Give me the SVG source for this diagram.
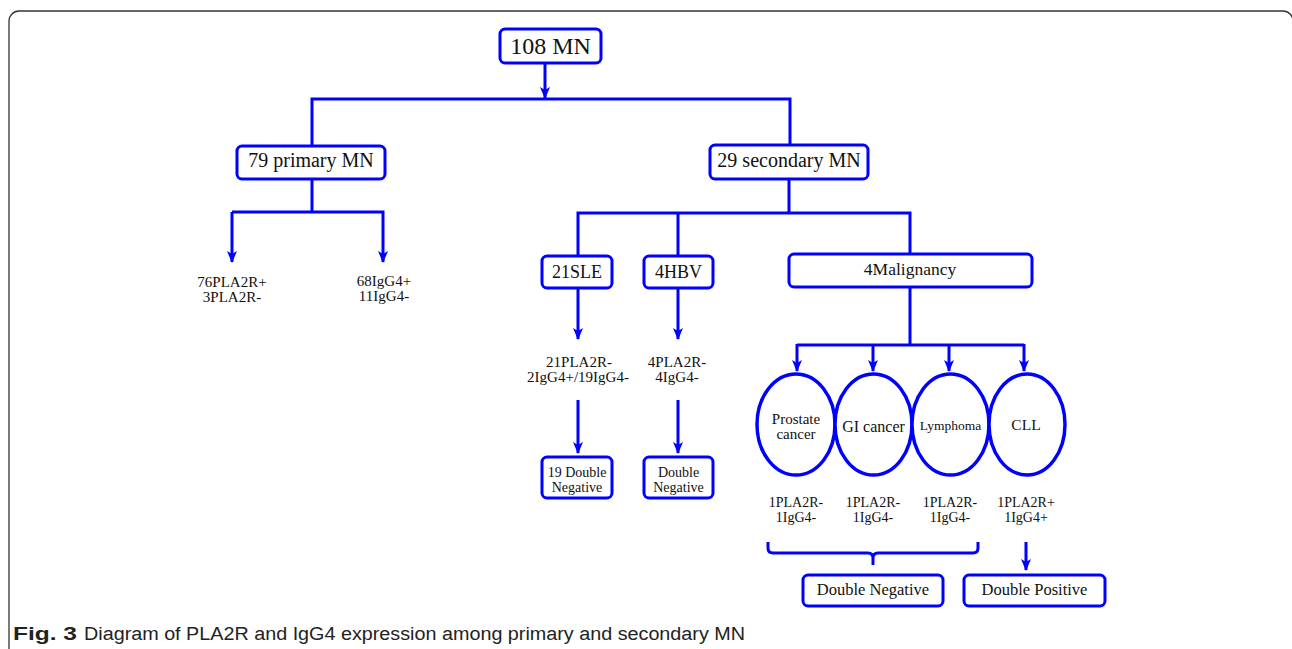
<svg xmlns="http://www.w3.org/2000/svg" width="1292" height="649" viewBox="0 0 1292 649">
<style>
.box{fill:#fff;stroke:#0000ff;stroke-width:3}
.ell{fill:#fff;stroke:#0000ff;stroke-width:3.5}
.ln{fill:none;stroke:#0000ff;stroke-width:3}
.t{font-family:"Liberation Serif","Times New Roman",serif;fill:#111;text-anchor:middle}
.cap{font-family:"Liberation Sans",Arial,sans-serif;font-size:18px;fill:#222}
</style>
<defs>
<marker id="ah" markerWidth="12" markerHeight="12" viewBox="0 0 12 12" refX="11" refY="6" orient="auto" markerUnits="userSpaceOnUse">
<path d="M0,1 L12,6 L0,11 L3,6 z" fill="#0000ff"/>
</marker>
</defs>
<rect x="9" y="11" width="1284" height="700" rx="10" fill="#fff" stroke="#333" stroke-width="1.3"/>

<g id="connectors">
<line class="ln" x1="545" y1="63" x2="545" y2="98" marker-end="url(#ah)"/>
<polyline class="ln" points="312,146 312,99 790,99 790,146"/>
<polyline class="ln" points="312,179 312,212"/>
<polyline class="ln" points="232,212 383,212 383,262" marker-end="url(#ah)"/>
<line class="ln" x1="232" y1="212" x2="232" y2="262" marker-end="url(#ah)"/>
<line class="ln" x1="789" y1="179" x2="789" y2="213"/>
<polyline class="ln" points="578,256 578,213 910,213 910,254"/>
<line class="ln" x1="678" y1="213" x2="678" y2="256"/>
<line class="ln" x1="578" y1="288" x2="578" y2="339" marker-end="url(#ah)"/>
<line class="ln" x1="678" y1="288" x2="678" y2="339" marker-end="url(#ah)"/>
<line class="ln" x1="578" y1="400" x2="578" y2="453" marker-end="url(#ah)"/>
<line class="ln" x1="678" y1="400" x2="678" y2="453" marker-end="url(#ah)"/>
<line class="ln" x1="910" y1="287" x2="910" y2="345"/>
<polyline class="ln" points="797,345 1024,345"/>
<line class="ln" x1="797" y1="344" x2="797" y2="371" marker-end="url(#ah)"/>
<line class="ln" x1="873" y1="344" x2="873" y2="371" marker-end="url(#ah)"/>
<line class="ln" x1="949" y1="344" x2="949" y2="371" marker-end="url(#ah)"/>
<line class="ln" x1="1024" y1="344" x2="1024" y2="371" marker-end="url(#ah)"/>
<path class="ln" d="M768,542 L768,548 Q768,553 773,553 L868,553 Q873,553 873,558 L873,565 M873,558 Q873,553 878,553 L973,553 Q978,553 978,548 L978,542"/>
<line class="ln" x1="1026" y1="542" x2="1026" y2="570" marker-end="url(#ah)"/>
</g>

<g id="n108">
<rect class="box" x="500" y="29" width="101" height="34" rx="5"/>
<text class="t" x="550.5" y="54" font-size="24">108 MN</text>
</g>
<g id="nprimary">
<rect class="box" x="237" y="146" width="148" height="33" rx="5"/>
<text class="t" x="311" y="167" font-size="20">79 primary MN</text>
</g>
<g id="nsecondary">
<rect class="box" x="710" y="145" width="158" height="34" rx="5"/>
<text class="t" x="789" y="167" font-size="20">29 secondary MN</text>
</g>
<g id="npla2r">
<text class="t" x="232" y="287" font-size="15">76PLA2R+</text>
<text class="t" x="232" y="302" font-size="15">3PLA2R-</text>
</g>
<g id="nigg4">
<text class="t" x="384" y="286" font-size="15">68IgG4+</text>
<text class="t" x="384" y="301" font-size="15">11IgG4-</text>
</g>
<g id="nsle">
<rect class="box" x="542" y="256" width="70" height="32" rx="5"/>
<text class="t" x="577" y="278" font-size="18">21SLE</text>
</g>
<g id="nhbv">
<rect class="box" x="644" y="256" width="69" height="32" rx="5"/>
<text class="t" x="678.5" y="278" font-size="18">4HBV</text>
</g>
<g id="nmalig">
<rect class="box" x="789" y="254" width="243" height="33" rx="5"/>
<text class="t" x="910" y="275" font-size="17.5">4Malignancy</text>
</g>
<g id="nsleres">
<text class="t" x="579" y="367" font-size="15">21PLA2R-</text>
<text class="t" x="578" y="382" font-size="15">2IgG4+/19IgG4-</text>
</g>
<g id="nhbvres">
<text class="t" x="677" y="367" font-size="15">4PLA2R-</text>
<text class="t" x="677" y="382" font-size="15">4IgG4-</text>
</g>
<g id="nsledn">
<rect class="box" x="542" y="457" width="70" height="41" rx="5"/>
<text class="t" x="577" y="477" font-size="14">19 Double</text>
<text class="t" x="577" y="492" font-size="14">Negative</text>
</g>
<g id="nhbvdn">
<rect class="box" x="644" y="457" width="69" height="41" rx="5"/>
<text class="t" x="678.5" y="477" font-size="14">Double</text>
<text class="t" x="678.5" y="492" font-size="14">Negative</text>
</g>
<g id="nprostate">
<ellipse class="ell" cx="796" cy="424.5" rx="39" ry="50.5"/>
<text class="t" x="796" y="424" font-size="15">Prostate</text>
<text class="t" x="796" y="439" font-size="15">cancer</text>
</g>
<g id="ngi">
<ellipse class="ell" cx="873.5" cy="424.5" rx="38.5" ry="50.5"/>
<text class="t" x="873.5" y="432" font-size="16">GI cancer</text>
</g>
<g id="nlymph">
<ellipse class="ell" cx="950.5" cy="424.5" rx="38.5" ry="50.5"/>
<text class="t" x="950.5" y="430" font-size="13.5">Lymphoma</text>
</g>
<g id="ncll">
<ellipse class="ell" cx="1027" cy="424.5" rx="38" ry="50.5"/>
<text class="t" x="1026" y="430" font-size="15.5">CLL</text>
</g>
<g id="rprostate">
<text class="t" x="796" y="507" font-size="14">1PLA2R-</text>
<text class="t" x="796" y="522" font-size="14">1IgG4-</text>
</g>
<g id="rgi">
<text class="t" x="873" y="507" font-size="14">1PLA2R-</text>
<text class="t" x="873" y="522" font-size="14">1IgG4-</text>
</g>
<g id="rlymph">
<text class="t" x="950" y="507" font-size="14">1PLA2R-</text>
<text class="t" x="950" y="522" font-size="14">1IgG4-</text>
</g>
<g id="rcll">
<text class="t" x="1026" y="507" font-size="14">1PLA2R+</text>
<text class="t" x="1026" y="522" font-size="14">1IgG4+</text>
</g>
<g id="ndn">
<rect class="box" x="803" y="575" width="140" height="31" rx="5"/>
<text class="t" x="873" y="595" font-size="16.5">Double Negative</text>
</g>
<g id="ndp">
<rect class="box" x="964" y="575" width="141" height="31" rx="5"/>
<text class="t" x="1034.5" y="595" font-size="16.5">Double Positive</text>
</g>
<g id="caption">
<text class="cap" x="13" y="640" font-weight="bold" textLength="64" lengthAdjust="spacingAndGlyphs">Fig. 3</text>
<text class="cap" x="84" y="640" textLength="661" lengthAdjust="spacingAndGlyphs">Diagram of PLA2R and IgG4 expression among primary and secondary MN</text>
</g>
</svg>
